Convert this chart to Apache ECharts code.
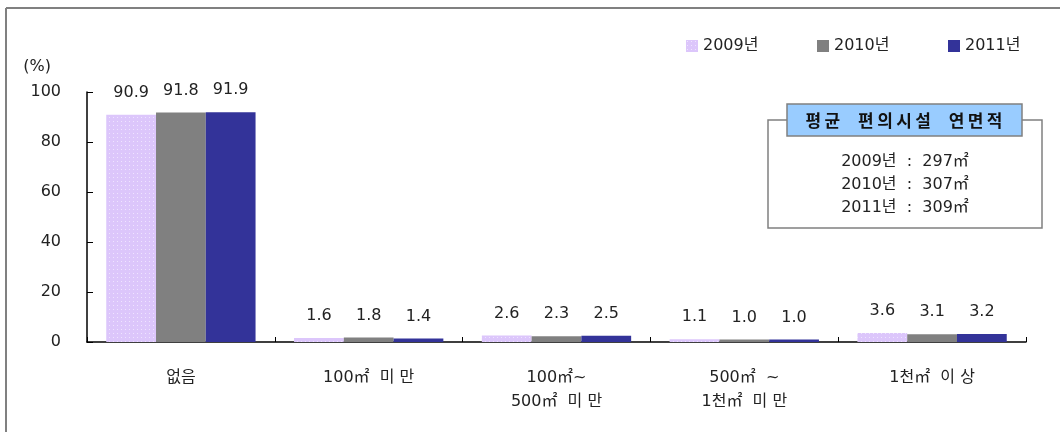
<!DOCTYPE html>
<html>
<head>
<meta charset="utf-8">
<script src="https://cdn.jsdelivr.net/npm/echarts@6/dist/echarts.min.js"></script>
<style>
html, body { margin: 0; padding: 0; background: #fff; }
#main { width: 1060px; height: 432px; }
</style>
</head>
<body>
<div id="main"></div>
<script>
var categories = ['없음', '100㎡  미 만', '100㎡~\n500㎡  미 만', '500㎡  ~\n1천㎡  미 만', '1천㎡  이 상'];
var seriesNames = ['2009년', '2010년', '2011년'];
var data2009 = [90.9, 1.6, 2.6, 1.1, 3.6];
var data2010 = [91.8, 1.8, 2.3, 1.0, 3.1];
var data2011 = [91.9, 1.4, 2.5, 1.0, 3.2];
var yTicks = [0, 20, 40, 60, 80, 100];
var boxTitle = '평균  편의시설  연면적';
var boxLines = ['2009년  :  297㎡', '2010년  :  307㎡', '2011년  :  309㎡'];

var font = '"DejaVu Sans", "Noto Sans CJK KR", sans-serif';

// 2009 막대의 점무늬
var pat = document.createElement('canvas');
pat.width = 4; pat.height = 4;
var pc = pat.getContext('2d');
pc.fillStyle = '#dcc6fb';
pc.fillRect(0, 0, 4, 4);
pc.fillStyle = '#efe4ff';
pc.fillRect(1, 1, 1, 1);

var colors = [{ image: pat, repeat: 'repeat' }, '#808080', '#333399'];
var allData = [data2009, data2010, data2011];
var legendLefts = [686, 817, 948];

var myChart = echarts.init(document.getElementById('main'));

var series = seriesNames.map(function (n, i) {
	return {
		name: n,
		type: 'bar',
		data: allData[i],
		barGap: '0%',
		barCategoryGap: '20.5%',
		itemStyle: { color: colors[i] },
		label: {
			show: true,
			position: 'top',
			distance: 14,
			color: '#222',
			fontSize: 16,
			fontFamily: font,
			formatter: function (p) { return p.value.toFixed(1); }
		}
	};
});

var legends = seriesNames.map(function (n, i) {
	return {
		left: legendLefts[i],
		top: 38,
		padding: 0,
		itemWidth: 12,
		itemHeight: 12,
		itemGap: 5,
		icon: 'rect',
		selectedMode: false,
		textStyle: { fontSize: 16, color: '#222', fontFamily: font, padding: [2, 0, 0, 0] },
		data: [n]
	};
});

var option = {
	animation: false,
	textStyle: { fontFamily: font },
	grid: { left: 87, right: 34, top: 92, bottom: 90 },
	legend: legends,
	xAxis: {
		type: 'category',
		data: categories,
		axisLine: { lineStyle: { color: '#000', width: 1.5 } },
		axisTick: { show: true, inside: true, length: 5, lineStyle: { color: '#000' } },
		axisLabel: { fontSize: 16, color: '#222', margin: 24, lineHeight: 24, fontFamily: font }
	},
	yAxis: {
		type: 'value',
		min: yTicks[0],
		max: yTicks[yTicks.length - 1],
		interval: 20,
		name: '(%)',
		nameLocation: 'end',
		nameGap: 17,
		nameTextStyle: { fontSize: 16, color: '#222', align: 'right', padding: [0, 36, 0, 0], fontFamily: font },
		splitLine: { show: false },
		axisLine: { show: true, lineStyle: { color: '#000', width: 1.5 } },
		axisTick: { show: true, inside: true, length: 6, lineStyle: { color: '#000' } },
		axisLabel: { fontSize: 16, color: '#222', margin: 26, fontFamily: font }
	},
	series: series,
	graphic: [
		{ type: 'line', shape: { x1: 6, y1: 8, x2: 1060, y2: 8 }, style: { stroke: '#808080', lineWidth: 2 } },
		{ type: 'line', shape: { x1: 6, y1: 8, x2: 6, y2: 432 }, style: { stroke: '#808080', lineWidth: 2 } },
		{ type: 'rect', shape: { x: 768, y: 120, width: 274, height: 108 }, style: { fill: '#fff', stroke: '#808080', lineWidth: 1.5 } },
		{ type: 'rect', shape: { x: 787, y: 104, width: 235, height: 32 }, style: { fill: '#99ccff', stroke: '#808080', lineWidth: 1.5 } },
		{ type: 'text', x: 904, y: 121, style: { text: boxTitle.split('').join('\u2009'), fontSize: 17, fontWeight: 'bold', fill: '#111', align: 'center', verticalAlign: 'middle', fontFamily: '"Noto Sans CJK KR", sans-serif' } },
		{ type: 'text', x: 905, y: 162, style: { text: boxLines[0], fontSize: 16, fill: '#222', align: 'center', verticalAlign: 'middle', fontFamily: font } },
		{ type: 'text', x: 905, y: 185, style: { text: boxLines[1], fontSize: 16, fill: '#222', align: 'center', verticalAlign: 'middle', fontFamily: font } },
		{ type: 'text', x: 905, y: 208, style: { text: boxLines[2], fontSize: 16, fill: '#222', align: 'center', verticalAlign: 'middle', fontFamily: font } }
	]
};

myChart.setOption(option);
</script>
</body>
</html>
